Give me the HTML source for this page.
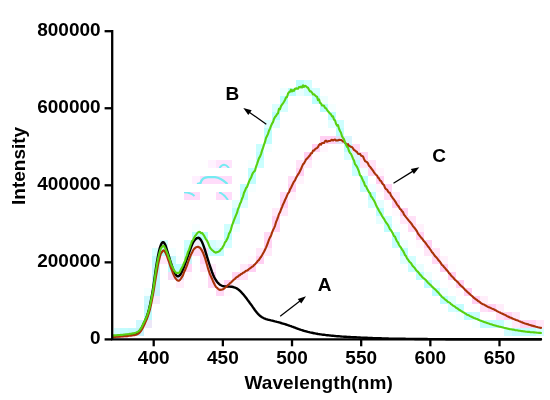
<!DOCTYPE html>
<html>
<head>
<meta charset="utf-8">
<title>Fluorescence spectra</title>
<style>
html,body{margin:0;padding:0;background:#fff;}
body{width:550px;height:400px;overflow:hidden;}
svg{display:block;will-change:transform;filter:blur(0.35px);}
text{font-family:"Liberation Sans",sans-serif;font-weight:bold;font-size:19px;fill:#000;}
</style>
</head>
<body>
<svg width="550" height="400" viewBox="0 0 550 400">
<rect width="550" height="400" fill="#fff"/>
<defs>
<clipPath id="r1"><rect x="184" y="160" width="48" height="8"/></clipPath>
<clipPath id="r2"><rect x="184" y="176" width="48" height="8"/></clipPath>
<clipPath id="r3"><rect x="184" y="192" width="48" height="8"/></clipPath>
</defs>
<g>
<rect x="208" y="160" width="8" height="8" fill="#fff2ff"/><rect x="216" y="160" width="16" height="8" fill="#ffe4fc"/>
<rect x="192" y="176" width="8" height="8" fill="#fff0ff"/>
<rect x="200" y="176" width="32" height="8" fill="#ffdcfa"/>
<rect x="184" y="192" width="16" height="8" fill="#ffdcfa"/>
<rect x="216" y="192" width="16" height="8" fill="#ffdcfa"/>
<g fill="none" stroke="#74ebf1" stroke-width="2.0" stroke-linecap="butt">
<path d="M219.5,168 Q224,161.5 229,168" clip-path="url(#r1)"/>
<path d="M197,184 L200.5,183 Q202,177.5 208,177.2 L215,177.2 Q221,178 227.5,184" clip-path="url(#r2)" stroke-width="2.3"/>
<path d="M184,192.2 Q191,192.5 194.5,196" clip-path="url(#r3)"/>
<path d="M219,192.3 Q223.5,193.5 228,200" clip-path="url(#r3)"/>
</g>
</g>
<rect x="114" y="328" width="6" height="8" fill="rgb(255,206,242)" fill-opacity="0.15"/>
<rect x="114" y="336" width="6" height="2" fill="rgb(255,206,242)" fill-opacity="0.59"/>
<rect x="120" y="328" width="8" height="8" fill="rgb(255,206,242)" fill-opacity="0.19"/>
<rect x="120" y="336" width="8" height="2" fill="rgb(255,206,242)" fill-opacity="0.66"/>
<rect x="128" y="328" width="8" height="8" fill="rgb(255,206,242)" fill-opacity="0.68"/>
<rect x="128" y="336" width="8" height="2" fill="rgb(255,206,242)" fill-opacity="0.18"/>
<rect x="136" y="320" width="8" height="8" fill="rgb(255,206,242)" fill-opacity="0.30"/>
<rect x="136" y="328" width="8" height="8" fill="rgb(255,206,242)" fill-opacity="0.95"/>
<rect x="144" y="296" width="8" height="8" fill="rgb(255,206,242)" fill-opacity="0.44"/>
<rect x="144" y="304" width="8" height="8" fill="rgb(255,206,242)" fill-opacity="0.86"/>
<rect x="144" y="312" width="8" height="8" fill="rgb(255,206,242)" fill-opacity="0.89"/>
<rect x="144" y="320" width="8" height="8" fill="rgb(255,206,242)" fill-opacity="0.62"/>
<rect x="152" y="256" width="8" height="8" fill="rgb(255,206,242)" fill-opacity="0.71"/>
<rect x="152" y="264" width="8" height="8" fill="rgb(255,206,242)" fill-opacity="0.86"/>
<rect x="152" y="272" width="8" height="8" fill="rgb(255,206,242)" fill-opacity="0.87"/>
<rect x="152" y="280" width="8" height="8" fill="rgb(255,206,242)" fill-opacity="0.84"/>
<rect x="152" y="288" width="8" height="8" fill="rgb(255,206,242)" fill-opacity="0.84"/>
<rect x="152" y="296" width="8" height="8" fill="rgb(255,206,242)" fill-opacity="0.43"/>
<rect x="160" y="248" width="8" height="8" fill="rgb(255,206,242)" fill-opacity="0.95"/>
<rect x="160" y="256" width="8" height="8" fill="rgb(255,206,242)" fill-opacity="0.48"/>
<rect x="168" y="256" width="8" height="8" fill="rgb(255,206,242)" fill-opacity="0.56"/>
<rect x="168" y="264" width="8" height="8" fill="rgb(255,206,242)" fill-opacity="0.90"/>
<rect x="168" y="272" width="8" height="8" fill="rgb(255,206,242)" fill-opacity="0.80"/>
<rect x="176" y="272" width="8" height="8" fill="rgb(255,206,242)" fill-opacity="0.95"/>
<rect x="176" y="280" width="8" height="8" fill="rgb(255,206,242)" fill-opacity="0.35"/>
<rect x="184" y="248" width="8" height="8" fill="rgb(255,206,242)" fill-opacity="0.37"/>
<rect x="184" y="256" width="8" height="8" fill="rgb(255,206,242)" fill-opacity="0.91"/>
<rect x="184" y="264" width="8" height="8" fill="rgb(255,206,242)" fill-opacity="0.86"/>
<rect x="184" y="272" width="8" height="8" fill="rgb(255,206,242)" fill-opacity="0.12"/>
<rect x="192" y="240" width="8" height="8" fill="rgb(255,206,242)" fill-opacity="0.51"/>
<rect x="192" y="248" width="8" height="8" fill="rgb(255,206,242)" fill-opacity="0.69"/>
<rect x="200" y="240" width="8" height="8" fill="rgb(255,206,242)" fill-opacity="0.08"/>
<rect x="200" y="248" width="8" height="8" fill="rgb(255,206,242)" fill-opacity="0.91"/>
<rect x="200" y="256" width="8" height="8" fill="rgb(255,206,242)" fill-opacity="0.89"/>
<rect x="200" y="264" width="8" height="8" fill="rgb(255,206,242)" fill-opacity="0.44"/>
<rect x="208" y="264" width="8" height="8" fill="rgb(255,206,242)" fill-opacity="0.42"/>
<rect x="208" y="272" width="8" height="8" fill="rgb(255,206,242)" fill-opacity="0.93"/>
<rect x="208" y="280" width="8" height="8" fill="rgb(255,206,242)" fill-opacity="0.79"/>
<rect x="216" y="280" width="8" height="8" fill="rgb(255,206,242)" fill-opacity="0.20"/>
<rect x="216" y="288" width="8" height="8" fill="rgb(255,206,242)" fill-opacity="0.80"/>
<rect x="224" y="280" width="8" height="8" fill="rgb(255,206,242)" fill-opacity="0.95"/>
<rect x="224" y="288" width="8" height="8" fill="rgb(255,206,242)" fill-opacity="0.13"/>
<rect x="232" y="272" width="8" height="8" fill="rgb(255,206,242)" fill-opacity="0.87"/>
<rect x="232" y="280" width="8" height="8" fill="rgb(255,206,242)" fill-opacity="0.24"/>
<rect x="240" y="264" width="8" height="8" fill="rgb(255,206,242)" fill-opacity="0.44"/>
<rect x="240" y="272" width="8" height="8" fill="rgb(255,206,242)" fill-opacity="0.59"/>
<rect x="248" y="256" width="8" height="8" fill="rgb(255,206,242)" fill-opacity="0.13"/>
<rect x="248" y="264" width="8" height="8" fill="rgb(255,206,242)" fill-opacity="0.95"/>
<rect x="256" y="248" width="8" height="8" fill="rgb(255,206,242)" fill-opacity="0.50"/>
<rect x="256" y="256" width="8" height="8" fill="rgb(255,206,242)" fill-opacity="0.95"/>
<rect x="264" y="232" width="8" height="8" fill="rgb(255,206,242)" fill-opacity="0.78"/>
<rect x="264" y="240" width="8" height="8" fill="rgb(255,206,242)" fill-opacity="0.90"/>
<rect x="264" y="248" width="8" height="8" fill="rgb(255,206,242)" fill-opacity="0.46"/>
<rect x="272" y="208" width="8" height="8" fill="rgb(255,206,242)" fill-opacity="0.43"/>
<rect x="272" y="216" width="8" height="8" fill="rgb(255,206,242)" fill-opacity="0.90"/>
<rect x="272" y="224" width="8" height="8" fill="rgb(255,206,242)" fill-opacity="0.87"/>
<rect x="272" y="232" width="8" height="8" fill="rgb(255,206,242)" fill-opacity="0.14"/>
<rect x="280" y="192" width="8" height="8" fill="rgb(255,206,242)" fill-opacity="0.72"/>
<rect x="280" y="200" width="8" height="8" fill="rgb(255,206,242)" fill-opacity="0.92"/>
<rect x="280" y="208" width="8" height="8" fill="rgb(255,206,242)" fill-opacity="0.49"/>
<rect x="288" y="176" width="8" height="8" fill="rgb(255,206,242)" fill-opacity="0.70"/>
<rect x="288" y="184" width="8" height="8" fill="rgb(255,206,242)" fill-opacity="0.93"/>
<rect x="288" y="192" width="8" height="8" fill="rgb(255,206,242)" fill-opacity="0.22"/>
<rect x="296" y="160" width="8" height="8" fill="rgb(255,206,242)" fill-opacity="0.57"/>
<rect x="296" y="168" width="8" height="8" fill="rgb(255,206,242)" fill-opacity="0.95"/>
<rect x="296" y="176" width="8" height="8" fill="rgb(255,206,242)" fill-opacity="0.26"/>
<rect x="304" y="152" width="8" height="8" fill="rgb(255,206,242)" fill-opacity="0.95"/>
<rect x="304" y="160" width="8" height="8" fill="rgb(255,206,242)" fill-opacity="0.41"/>
<rect x="312" y="144" width="8" height="8" fill="rgb(255,206,242)" fill-opacity="0.95"/>
<rect x="312" y="152" width="8" height="8" fill="rgb(255,206,242)" fill-opacity="0.13"/>
<rect x="320" y="136" width="8" height="8" fill="rgb(255,206,242)" fill-opacity="0.95"/>
<rect x="320" y="144" width="8" height="8" fill="rgb(255,206,242)" fill-opacity="0.19"/>
<rect x="328" y="136" width="8" height="8" fill="rgb(255,206,242)" fill-opacity="0.95"/>
<rect x="336" y="136" width="8" height="8" fill="rgb(255,206,242)" fill-opacity="0.95"/>
<rect x="344" y="136" width="8" height="8" fill="rgb(255,206,242)" fill-opacity="0.39"/>
<rect x="344" y="144" width="8" height="8" fill="rgb(255,206,242)" fill-opacity="0.85"/>
<rect x="352" y="144" width="8" height="8" fill="rgb(255,206,242)" fill-opacity="0.74"/>
<rect x="352" y="152" width="8" height="8" fill="rgb(255,206,242)" fill-opacity="0.45"/>
<rect x="360" y="152" width="8" height="8" fill="rgb(255,206,242)" fill-opacity="0.84"/>
<rect x="360" y="160" width="8" height="8" fill="rgb(255,206,242)" fill-opacity="0.55"/>
<rect x="368" y="160" width="8" height="8" fill="rgb(255,206,242)" fill-opacity="0.58"/>
<rect x="368" y="168" width="8" height="8" fill="rgb(255,206,242)" fill-opacity="0.86"/>
<rect x="376" y="168" width="8" height="8" fill="rgb(255,206,242)" fill-opacity="0.21"/>
<rect x="376" y="176" width="8" height="8" fill="rgb(255,206,242)" fill-opacity="0.95"/>
<rect x="376" y="184" width="8" height="8" fill="rgb(255,206,242)" fill-opacity="0.19"/>
<rect x="384" y="184" width="8" height="8" fill="rgb(255,206,242)" fill-opacity="0.88"/>
<rect x="384" y="192" width="8" height="8" fill="rgb(255,206,242)" fill-opacity="0.65"/>
<rect x="392" y="192" width="8" height="8" fill="rgb(255,206,242)" fill-opacity="0.42"/>
<rect x="392" y="200" width="8" height="8" fill="rgb(255,206,242)" fill-opacity="0.95"/>
<rect x="392" y="208" width="8" height="8" fill="rgb(255,206,242)" fill-opacity="0.12"/>
<rect x="400" y="208" width="8" height="8" fill="rgb(255,206,242)" fill-opacity="0.95"/>
<rect x="400" y="216" width="8" height="8" fill="rgb(255,206,242)" fill-opacity="0.47"/>
<rect x="408" y="216" width="8" height="8" fill="rgb(255,206,242)" fill-opacity="0.62"/>
<rect x="408" y="224" width="8" height="8" fill="rgb(255,206,242)" fill-opacity="0.76"/>
<rect x="416" y="224" width="8" height="8" fill="rgb(255,206,242)" fill-opacity="0.28"/>
<rect x="416" y="232" width="8" height="8" fill="rgb(255,206,242)" fill-opacity="0.95"/>
<rect x="416" y="240" width="8" height="8" fill="rgb(255,206,242)" fill-opacity="0.15"/>
<rect x="424" y="240" width="8" height="8" fill="rgb(255,206,242)" fill-opacity="0.92"/>
<rect x="424" y="248" width="8" height="8" fill="rgb(255,206,242)" fill-opacity="0.50"/>
<rect x="432" y="248" width="8" height="8" fill="rgb(255,206,242)" fill-opacity="0.55"/>
<rect x="432" y="256" width="8" height="8" fill="rgb(255,206,242)" fill-opacity="0.80"/>
<rect x="440" y="256" width="8" height="8" fill="rgb(255,206,242)" fill-opacity="0.28"/>
<rect x="440" y="264" width="8" height="8" fill="rgb(255,206,242)" fill-opacity="0.95"/>
<rect x="448" y="264" width="8" height="8" fill="rgb(255,206,242)" fill-opacity="0.11"/>
<rect x="448" y="272" width="8" height="8" fill="rgb(255,206,242)" fill-opacity="0.95"/>
<rect x="448" y="280" width="8" height="8" fill="rgb(255,206,242)" fill-opacity="0.10"/>
<rect x="456" y="280" width="8" height="8" fill="rgb(255,206,242)" fill-opacity="0.95"/>
<rect x="456" y="288" width="8" height="8" fill="rgb(255,206,242)" fill-opacity="0.10"/>
<rect x="464" y="288" width="8" height="8" fill="rgb(255,206,242)" fill-opacity="0.95"/>
<rect x="472" y="296" width="8" height="8" fill="rgb(255,206,242)" fill-opacity="0.95"/>
<rect x="480" y="296" width="8" height="8" fill="rgb(255,206,242)" fill-opacity="0.35"/>
<rect x="480" y="304" width="8" height="8" fill="rgb(255,206,242)" fill-opacity="0.63"/>
<rect x="488" y="304" width="8" height="8" fill="rgb(255,206,242)" fill-opacity="0.93"/>
<rect x="496" y="304" width="8" height="8" fill="rgb(255,206,242)" fill-opacity="0.36"/>
<rect x="496" y="312" width="8" height="8" fill="rgb(255,206,242)" fill-opacity="0.59"/>
<rect x="504" y="312" width="8" height="8" fill="rgb(255,206,242)" fill-opacity="0.93"/>
<rect x="512" y="312" width="8" height="8" fill="rgb(255,206,242)" fill-opacity="0.49"/>
<rect x="512" y="320" width="8" height="8" fill="rgb(255,206,242)" fill-opacity="0.42"/>
<rect x="520" y="320" width="8" height="8" fill="rgb(255,206,242)" fill-opacity="0.90"/>
<rect x="528" y="320" width="8" height="8" fill="rgb(255,206,242)" fill-opacity="0.88"/>
<rect x="536" y="320" width="8" height="8" fill="rgb(255,206,242)" fill-opacity="0.46"/>
<rect x="536" y="328" width="8" height="8" fill="rgb(255,206,242)" fill-opacity="0.08"/>
<rect x="114" y="328" width="6" height="8" fill="rgb(184,253,253)" fill-opacity="0.62"/>
<rect x="114" y="336" width="6" height="2" fill="rgb(184,253,253)" fill-opacity="0.13"/>
<rect x="120" y="328" width="8" height="8" fill="rgb(184,253,253)" fill-opacity="0.85"/>
<rect x="128" y="328" width="8" height="8" fill="rgb(184,253,253)" fill-opacity="0.86"/>
<rect x="136" y="320" width="8" height="8" fill="rgb(184,253,253)" fill-opacity="0.66"/>
<rect x="136" y="328" width="8" height="8" fill="rgb(184,253,253)" fill-opacity="0.77"/>
<rect x="144" y="288" width="8" height="8" fill="rgb(184,253,253)" fill-opacity="0.15"/>
<rect x="144" y="296" width="8" height="8" fill="rgb(184,253,253)" fill-opacity="0.72"/>
<rect x="144" y="304" width="8" height="8" fill="rgb(184,253,253)" fill-opacity="0.88"/>
<rect x="144" y="312" width="8" height="8" fill="rgb(184,253,253)" fill-opacity="0.92"/>
<rect x="144" y="320" width="8" height="8" fill="rgb(184,253,253)" fill-opacity="0.27"/>
<rect x="152" y="248" width="8" height="8" fill="rgb(184,253,253)" fill-opacity="0.52"/>
<rect x="152" y="256" width="8" height="8" fill="rgb(184,253,253)" fill-opacity="0.87"/>
<rect x="152" y="264" width="8" height="8" fill="rgb(184,253,253)" fill-opacity="0.86"/>
<rect x="152" y="272" width="8" height="8" fill="rgb(184,253,253)" fill-opacity="0.85"/>
<rect x="152" y="280" width="8" height="8" fill="rgb(184,253,253)" fill-opacity="0.85"/>
<rect x="152" y="288" width="8" height="8" fill="rgb(184,253,253)" fill-opacity="0.71"/>
<rect x="152" y="296" width="8" height="8" fill="rgb(184,253,253)" fill-opacity="0.12"/>
<rect x="160" y="240" width="8" height="8" fill="rgb(184,253,253)" fill-opacity="0.62"/>
<rect x="160" y="248" width="8" height="8" fill="rgb(184,253,253)" fill-opacity="0.95"/>
<rect x="168" y="248" width="8" height="8" fill="rgb(184,253,253)" fill-opacity="0.15"/>
<rect x="168" y="256" width="8" height="8" fill="rgb(184,253,253)" fill-opacity="0.85"/>
<rect x="168" y="264" width="8" height="8" fill="rgb(184,253,253)" fill-opacity="0.94"/>
<rect x="168" y="272" width="8" height="8" fill="rgb(184,253,253)" fill-opacity="0.12"/>
<rect x="176" y="256" width="8" height="8" fill="rgb(184,253,253)" fill-opacity="0.13"/>
<rect x="176" y="264" width="8" height="8" fill="rgb(184,253,253)" fill-opacity="0.95"/>
<rect x="176" y="272" width="8" height="8" fill="rgb(184,253,253)" fill-opacity="0.39"/>
<rect x="184" y="240" width="8" height="8" fill="rgb(184,253,253)" fill-opacity="0.72"/>
<rect x="184" y="248" width="8" height="8" fill="rgb(184,253,253)" fill-opacity="0.90"/>
<rect x="184" y="256" width="8" height="8" fill="rgb(184,253,253)" fill-opacity="0.77"/>
<rect x="192" y="224" width="8" height="8" fill="rgb(184,253,253)" fill-opacity="0.11"/>
<rect x="192" y="232" width="8" height="8" fill="rgb(184,253,253)" fill-opacity="0.95"/>
<rect x="192" y="240" width="8" height="8" fill="rgb(184,253,253)" fill-opacity="0.21"/>
<rect x="200" y="232" width="8" height="8" fill="rgb(184,253,253)" fill-opacity="0.95"/>
<rect x="200" y="240" width="8" height="8" fill="rgb(184,253,253)" fill-opacity="0.33"/>
<rect x="208" y="240" width="8" height="8" fill="rgb(184,253,253)" fill-opacity="0.60"/>
<rect x="208" y="248" width="8" height="8" fill="rgb(184,253,253)" fill-opacity="0.78"/>
<rect x="216" y="240" width="8" height="8" fill="rgb(184,253,253)" fill-opacity="0.39"/>
<rect x="216" y="248" width="8" height="8" fill="rgb(184,253,253)" fill-opacity="0.85"/>
<rect x="224" y="224" width="8" height="8" fill="rgb(184,253,253)" fill-opacity="0.67"/>
<rect x="224" y="232" width="8" height="8" fill="rgb(184,253,253)" fill-opacity="0.92"/>
<rect x="224" y="240" width="8" height="8" fill="rgb(184,253,253)" fill-opacity="0.59"/>
<rect x="232" y="200" width="8" height="8" fill="rgb(184,253,253)" fill-opacity="0.44"/>
<rect x="232" y="208" width="8" height="8" fill="rgb(184,253,253)" fill-opacity="0.89"/>
<rect x="232" y="216" width="8" height="8" fill="rgb(184,253,253)" fill-opacity="0.88"/>
<rect x="232" y="224" width="8" height="8" fill="rgb(184,253,253)" fill-opacity="0.24"/>
<rect x="240" y="184" width="8" height="8" fill="rgb(184,253,253)" fill-opacity="0.82"/>
<rect x="240" y="192" width="8" height="8" fill="rgb(184,253,253)" fill-opacity="0.91"/>
<rect x="240" y="200" width="8" height="8" fill="rgb(184,253,253)" fill-opacity="0.46"/>
<rect x="248" y="160" width="8" height="8" fill="rgb(184,253,253)" fill-opacity="0.15"/>
<rect x="248" y="168" width="8" height="8" fill="rgb(184,253,253)" fill-opacity="0.90"/>
<rect x="248" y="176" width="8" height="8" fill="rgb(184,253,253)" fill-opacity="0.87"/>
<rect x="248" y="184" width="8" height="8" fill="rgb(184,253,253)" fill-opacity="0.12"/>
<rect x="256" y="144" width="8" height="8" fill="rgb(184,253,253)" fill-opacity="0.74"/>
<rect x="256" y="152" width="8" height="8" fill="rgb(184,253,253)" fill-opacity="0.92"/>
<rect x="256" y="160" width="8" height="8" fill="rgb(184,253,253)" fill-opacity="0.73"/>
<rect x="264" y="120" width="8" height="8" fill="rgb(184,253,253)" fill-opacity="0.46"/>
<rect x="264" y="128" width="8" height="8" fill="rgb(184,253,253)" fill-opacity="0.91"/>
<rect x="264" y="136" width="8" height="8" fill="rgb(184,253,253)" fill-opacity="0.86"/>
<rect x="264" y="144" width="8" height="8" fill="rgb(184,253,253)" fill-opacity="0.15"/>
<rect x="272" y="104" width="8" height="8" fill="rgb(184,253,253)" fill-opacity="0.52"/>
<rect x="272" y="112" width="8" height="8" fill="rgb(184,253,253)" fill-opacity="0.95"/>
<rect x="272" y="120" width="8" height="8" fill="rgb(184,253,253)" fill-opacity="0.46"/>
<rect x="280" y="88" width="8" height="8" fill="rgb(184,253,253)" fill-opacity="0.23"/>
<rect x="280" y="96" width="8" height="8" fill="rgb(184,253,253)" fill-opacity="0.95"/>
<rect x="280" y="104" width="8" height="8" fill="rgb(184,253,253)" fill-opacity="0.59"/>
<rect x="288" y="88" width="8" height="8" fill="rgb(184,253,253)" fill-opacity="0.95"/>
<rect x="296" y="80" width="8" height="8" fill="rgb(184,253,253)" fill-opacity="0.95"/>
<rect x="296" y="88" width="8" height="8" fill="rgb(184,253,253)" fill-opacity="0.33"/>
<rect x="304" y="80" width="8" height="8" fill="rgb(184,253,253)" fill-opacity="0.59"/>
<rect x="304" y="88" width="8" height="8" fill="rgb(184,253,253)" fill-opacity="0.69"/>
<rect x="312" y="88" width="8" height="8" fill="rgb(184,253,253)" fill-opacity="0.60"/>
<rect x="312" y="96" width="8" height="8" fill="rgb(184,253,253)" fill-opacity="0.95"/>
<rect x="320" y="96" width="8" height="8" fill="rgb(184,253,253)" fill-opacity="0.25"/>
<rect x="320" y="104" width="8" height="8" fill="rgb(184,253,253)" fill-opacity="0.95"/>
<rect x="328" y="104" width="8" height="8" fill="rgb(184,253,253)" fill-opacity="0.14"/>
<rect x="328" y="112" width="8" height="8" fill="rgb(184,253,253)" fill-opacity="0.95"/>
<rect x="328" y="120" width="8" height="8" fill="rgb(184,253,253)" fill-opacity="0.40"/>
<rect x="336" y="120" width="8" height="8" fill="rgb(184,253,253)" fill-opacity="0.70"/>
<rect x="336" y="128" width="8" height="8" fill="rgb(184,253,253)" fill-opacity="0.93"/>
<rect x="336" y="136" width="8" height="8" fill="rgb(184,253,253)" fill-opacity="0.41"/>
<rect x="344" y="136" width="8" height="8" fill="rgb(184,253,253)" fill-opacity="0.52"/>
<rect x="344" y="144" width="8" height="8" fill="rgb(184,253,253)" fill-opacity="0.94"/>
<rect x="344" y="152" width="8" height="8" fill="rgb(184,253,253)" fill-opacity="0.52"/>
<rect x="352" y="152" width="8" height="8" fill="rgb(184,253,253)" fill-opacity="0.45"/>
<rect x="352" y="160" width="8" height="8" fill="rgb(184,253,253)" fill-opacity="0.95"/>
<rect x="352" y="168" width="8" height="8" fill="rgb(184,253,253)" fill-opacity="0.74"/>
<rect x="360" y="168" width="8" height="8" fill="rgb(184,253,253)" fill-opacity="0.18"/>
<rect x="360" y="176" width="8" height="8" fill="rgb(184,253,253)" fill-opacity="0.94"/>
<rect x="360" y="184" width="8" height="8" fill="rgb(184,253,253)" fill-opacity="0.77"/>
<rect x="368" y="184" width="8" height="8" fill="rgb(184,253,253)" fill-opacity="0.22"/>
<rect x="368" y="192" width="8" height="8" fill="rgb(184,253,253)" fill-opacity="0.95"/>
<rect x="368" y="200" width="8" height="8" fill="rgb(184,253,253)" fill-opacity="0.56"/>
<rect x="376" y="200" width="8" height="8" fill="rgb(184,253,253)" fill-opacity="0.38"/>
<rect x="376" y="208" width="8" height="8" fill="rgb(184,253,253)" fill-opacity="0.95"/>
<rect x="376" y="216" width="8" height="8" fill="rgb(184,253,253)" fill-opacity="0.35"/>
<rect x="384" y="216" width="8" height="8" fill="rgb(184,253,253)" fill-opacity="0.65"/>
<rect x="384" y="224" width="8" height="8" fill="rgb(184,253,253)" fill-opacity="0.91"/>
<rect x="392" y="224" width="8" height="8" fill="rgb(184,253,253)" fill-opacity="0.08"/>
<rect x="392" y="232" width="8" height="8" fill="rgb(184,253,253)" fill-opacity="0.91"/>
<rect x="392" y="240" width="8" height="8" fill="rgb(184,253,253)" fill-opacity="0.78"/>
<rect x="400" y="240" width="8" height="8" fill="rgb(184,253,253)" fill-opacity="0.23"/>
<rect x="400" y="248" width="8" height="8" fill="rgb(184,253,253)" fill-opacity="0.95"/>
<rect x="400" y="256" width="8" height="8" fill="rgb(184,253,253)" fill-opacity="0.43"/>
<rect x="408" y="256" width="8" height="8" fill="rgb(184,253,253)" fill-opacity="0.62"/>
<rect x="408" y="264" width="8" height="8" fill="rgb(184,253,253)" fill-opacity="0.77"/>
<rect x="416" y="264" width="8" height="8" fill="rgb(184,253,253)" fill-opacity="0.32"/>
<rect x="416" y="272" width="8" height="8" fill="rgb(184,253,253)" fill-opacity="0.93"/>
<rect x="424" y="272" width="8" height="8" fill="rgb(184,253,253)" fill-opacity="0.25"/>
<rect x="424" y="280" width="8" height="8" fill="rgb(184,253,253)" fill-opacity="0.95"/>
<rect x="432" y="280" width="8" height="8" fill="rgb(184,253,253)" fill-opacity="0.24"/>
<rect x="432" y="288" width="8" height="8" fill="rgb(184,253,253)" fill-opacity="0.95"/>
<rect x="440" y="288" width="8" height="8" fill="rgb(184,253,253)" fill-opacity="0.22"/>
<rect x="440" y="296" width="8" height="8" fill="rgb(184,253,253)" fill-opacity="0.93"/>
<rect x="448" y="296" width="8" height="8" fill="rgb(184,253,253)" fill-opacity="0.42"/>
<rect x="448" y="304" width="8" height="8" fill="rgb(184,253,253)" fill-opacity="0.64"/>
<rect x="456" y="304" width="8" height="8" fill="rgb(184,253,253)" fill-opacity="0.85"/>
<rect x="456" y="312" width="8" height="8" fill="rgb(184,253,253)" fill-opacity="0.16"/>
<rect x="464" y="312" width="8" height="8" fill="rgb(184,253,253)" fill-opacity="0.95"/>
<rect x="472" y="312" width="8" height="8" fill="rgb(184,253,253)" fill-opacity="0.79"/>
<rect x="472" y="320" width="8" height="8" fill="rgb(184,253,253)" fill-opacity="0.14"/>
<rect x="480" y="320" width="8" height="8" fill="rgb(184,253,253)" fill-opacity="0.86"/>
<rect x="488" y="320" width="8" height="8" fill="rgb(184,253,253)" fill-opacity="0.89"/>
<rect x="496" y="320" width="8" height="8" fill="rgb(184,253,253)" fill-opacity="0.81"/>
<rect x="504" y="320" width="8" height="8" fill="rgb(184,253,253)" fill-opacity="0.18"/>
<rect x="504" y="328" width="8" height="8" fill="rgb(184,253,253)" fill-opacity="0.68"/>
<rect x="512" y="328" width="8" height="8" fill="rgb(184,253,253)" fill-opacity="0.86"/>
<rect x="520" y="328" width="8" height="8" fill="rgb(184,253,253)" fill-opacity="0.85"/>
<rect x="528" y="328" width="8" height="8" fill="rgb(184,253,253)" fill-opacity="0.85"/>
<rect x="536" y="328" width="8" height="8" fill="rgb(184,253,253)" fill-opacity="0.53"/>
<g fill="none" stroke-linejoin="round" stroke-linecap="round">
<path d="M113.0,336.3 L114.0,336.2 L115.0,336.2 L116.0,336.1 L117.0,336.0 L118.0,336.0 L119.0,335.9 L120.0,335.8 L121.0,335.7 L122.0,335.6 L123.0,335.5 L124.0,335.4 L125.0,335.3 L126.0,335.2 L127.0,335.1 L128.0,335.0 L129.0,334.9 L130.0,334.7 L131.0,334.6 L132.0,334.4 L133.0,334.2 L134.0,334.0 L135.0,333.7 L136.0,333.4 L137.0,333.0 L138.0,332.4 L139.0,331.6 L140.0,330.5 L141.0,329.1 L142.0,327.3 L143.0,325.3 L144.0,323.1 L145.0,320.9 L146.0,318.5 L147.0,315.9 L148.0,312.9 L149.0,309.2 L150.0,304.9 L151.0,300.0 L152.0,294.8 L153.0,288.9 L154.0,282.2 L155.0,274.9 L156.0,267.9 L157.0,261.6 L158.0,256.1 L159.0,251.3 L160.0,247.4 L161.0,244.6 L162.0,242.7 L163.0,242.1 L164.0,242.6 L165.0,244.3 L166.0,246.8 L167.0,250.0 L168.0,253.3 L169.0,256.7 L170.0,260.0 L171.0,263.1 L172.0,266.1 L173.0,268.9 L174.0,271.4 L175.0,273.5 L176.0,275.0 L177.0,276.0 L178.0,276.3 L179.0,275.9 L180.0,275.0 L181.0,273.5 L182.0,271.6 L183.0,269.2 L184.0,266.7 L185.0,264.1 L186.0,261.4 L187.0,258.6 L188.0,255.7 L189.0,252.8 L190.0,250.0 L191.0,247.3 L192.0,244.8 L193.0,242.7 L194.0,241.0 L195.0,239.7 L196.0,238.8 L197.0,238.1 L198.0,237.8 L199.0,238.0 L200.0,238.8 L201.0,240.2 L202.0,242.0 L203.0,244.4 L204.0,247.1 L205.0,250.1 L206.0,253.3 L207.0,256.6 L208.0,259.8 L209.0,263.0 L210.0,266.1 L211.0,269.0 L212.0,271.9 L213.0,274.5 L214.0,276.8 L215.0,278.7 L216.0,280.3 L217.0,281.7 L218.0,282.9 L219.0,283.9 L220.0,284.7 L221.0,285.3 L222.0,285.8 L223.0,286.1 L224.0,286.3 L225.0,286.4 L226.0,286.4 L227.0,286.5 L228.0,286.5 L229.0,286.6 L230.0,286.6 L231.0,286.7 L232.0,286.8 L233.0,287.0 L234.0,287.3 L235.0,287.6 L236.0,288.0 L237.0,288.6 L238.0,289.3 L239.0,290.0 L240.0,290.9 L241.0,291.9 L242.0,293.0 L243.0,294.1 L244.0,295.3 L245.0,296.5 L246.0,297.8 L247.0,299.1 L248.0,300.5 L249.0,301.8 L250.0,303.2 L251.0,304.5 L252.0,305.9 L253.0,307.4 L254.0,308.8 L255.0,310.2 L256.0,311.5 L257.0,312.8 L258.0,313.9 L259.0,314.9 L260.0,315.8 L261.0,316.6 L262.0,317.3 L263.0,317.8 L264.0,318.3 L265.0,318.7 L266.0,319.1 L267.0,319.4 L268.0,319.7 L269.0,319.9 L270.0,320.1 L271.0,320.4 L272.0,320.6 L273.0,320.8 L274.0,321.1 L275.0,321.4 L276.0,321.6 L277.0,321.9 L278.0,322.1 L279.0,322.4 L280.0,322.7 L281.0,323.0 L282.0,323.3 L283.0,323.6 L284.0,323.9 L285.0,324.2 L286.0,324.5 L287.0,324.8 L288.0,325.2 L289.0,325.5 L290.0,325.9 L291.0,326.2 L292.0,326.6 L293.0,326.9 L294.0,327.3 L295.0,327.7 L296.0,328.1 L297.0,328.5 L298.0,328.8 L299.0,329.2 L300.0,329.5 L301.0,329.9 L302.0,330.2 L303.0,330.5 L304.0,330.8 L305.0,331.1 L306.0,331.3 L307.0,331.6 L308.0,331.9 L309.0,332.1 L310.0,332.4 L311.0,332.6 L312.0,332.8 L313.0,333.0 L314.0,333.2 L315.0,333.4 L316.0,333.6 L317.0,333.8 L318.0,334.0 L319.0,334.1 L320.0,334.3 L321.0,334.4 L322.0,334.6 L323.0,334.7 L324.0,334.8 L325.0,334.9 L326.0,335.1 L327.0,335.2 L328.0,335.3 L329.0,335.4 L330.0,335.5 L331.0,335.6 L332.0,335.7 L333.0,335.8 L334.0,335.9 L335.0,336.0 L336.0,336.1 L337.0,336.2 L338.0,336.3 L339.0,336.3 L340.0,336.4 L341.0,336.5 L342.0,336.6 L343.0,336.6 L344.0,336.7 L345.0,336.8 L346.0,336.8 L347.0,336.9 L348.0,336.9 L349.0,337.0 L350.0,337.0 L351.0,337.1 L352.0,337.1 L353.0,337.2 L354.0,337.2 L355.0,337.3 L356.0,337.3 L357.0,337.4 L358.0,337.4 L359.0,337.5 L360.0,337.5 L361.0,337.6 L362.0,337.6 L363.0,337.7 L364.0,337.7 L365.0,337.8 L366.0,337.8 L367.0,337.8 L368.0,337.9 L369.0,337.9 L370.0,338.0 L371.0,338.0 L372.0,338.0 L373.0,338.1 L374.0,338.1 L375.0,338.1 L376.0,338.2 L377.0,338.2 L378.0,338.2 L379.0,338.3 L380.0,338.3 L381.0,338.3 L382.0,338.4 L383.0,338.4 L384.0,338.4 L385.0,338.5 L386.0,338.5 L387.0,338.5 L388.0,338.5 L389.0,338.6 L390.0,338.6 L391.0,338.6 L392.0,338.6 L393.0,338.7 L394.0,338.7 L395.0,338.7 L396.0,338.7 L397.0,338.7 L398.0,338.7 L399.0,338.8 L400.0,338.8 L401.0,338.8 L402.0,338.8 L403.0,338.8 L404.0,338.8 L405.0,338.8 L406.0,338.9 L407.0,338.9 L408.0,338.9 L409.0,338.9 L410.0,338.9 L411.0,338.9 L412.0,338.9 L413.0,338.9 L414.0,338.9 L415.0,339.0 L416.0,339.0 L417.0,339.0 L418.0,339.0 L419.0,339.0 L420.0,339.0 L421.0,339.0 L422.0,339.0 L423.0,339.0 L424.0,339.0 L425.0,339.0 L426.0,339.0 L427.0,339.0 L428.0,339.1 L429.0,339.1 L430.0,339.1 L431.0,339.1 L432.0,339.1 L433.0,339.1 L434.0,339.1 L435.0,339.1 L436.0,339.1 L437.0,339.1 L438.0,339.1 L439.0,339.1 L440.0,339.1 L441.0,339.1 L442.0,339.1 L443.0,339.1 L444.0,339.1 L445.0,339.1 L446.0,339.2 L447.0,339.2 L448.0,339.2 L449.0,339.2 L450.0,339.2 L451.0,339.2 L452.0,339.2 L453.0,339.2 L454.0,339.2 L455.0,339.2 L456.0,339.2 L457.0,339.2 L458.0,339.2 L459.0,339.2 L460.0,339.2 L461.0,339.2 L462.0,339.2 L463.0,339.2 L464.0,339.2 L465.0,339.2 L466.0,339.2 L467.0,339.2 L468.0,339.2 L469.0,339.2 L470.0,339.2 L471.0,339.2 L472.0,339.2 L473.0,339.2 L474.0,339.2 L475.0,339.2 L476.0,339.2 L477.0,339.2 L478.0,339.2 L479.0,339.2 L480.0,339.2 L481.0,339.2 L482.0,339.2 L483.0,339.2 L484.0,339.2 L485.0,339.2 L486.0,339.2 L487.0,339.3 L488.0,339.3 L489.0,339.3 L490.0,339.3 L491.0,339.3 L492.0,339.3 L493.0,339.3 L494.0,339.3 L495.0,339.3 L496.0,339.3 L497.0,339.3 L498.0,339.3 L499.0,339.3 L500.0,339.3 L501.0,339.3 L502.0,339.3 L503.0,339.3 L504.0,339.3 L505.0,339.3 L506.0,339.3 L507.0,339.3 L508.0,339.3 L509.0,339.3 L510.0,339.3 L511.0,339.3 L512.0,339.3 L513.0,339.3 L514.0,339.3 L515.0,339.3 L516.0,339.3 L517.0,339.3 L518.0,339.3 L519.0,339.3 L520.0,339.3 L521.0,339.3 L522.0,339.3 L523.0,339.3 L524.0,339.3 L525.0,339.3 L526.0,339.3 L527.0,339.3 L528.0,339.3 L529.0,339.3 L530.0,339.3 L531.0,339.3 L532.0,339.3 L533.0,339.3 L534.0,339.3 L535.0,339.3 L536.0,339.3 L537.0,339.3 L538.0,339.3 L539.0,339.3 L540.0,339.3 L541.0,339.3" stroke="#000" stroke-width="2.4"/>
<path d="M113.0,337.0 L114.0,337.0 L115.0,336.9 L116.0,336.8 L117.0,336.8 L118.0,336.7 L119.0,336.7 L120.0,336.6 L121.0,336.5 L122.0,336.4 L123.0,336.4 L124.0,336.3 L125.0,336.3 L126.0,336.1 L127.0,336.1 L128.0,336.0 L129.0,335.8 L130.0,335.8 L131.0,335.6 L132.0,335.5 L133.0,335.3 L134.0,335.2 L135.0,334.9 L136.0,334.7 L137.0,334.4 L138.0,333.9 L139.0,333.1 L140.0,332.2 L141.0,330.9 L142.0,329.3 L143.0,327.4 L144.0,325.3 L145.0,323.2 L146.0,320.9 L147.0,318.5 L148.0,315.8 L149.0,312.7 L150.0,309.1 L151.0,304.7 L152.0,299.9 L153.0,294.6 L154.0,288.8 L155.0,282.4 L156.0,276.4 L157.0,270.8 L158.0,264.8 L159.0,260.5 L160.0,256.4 L161.0,253.3 L162.0,252.0 L163.0,250.7 L164.0,250.3 L165.0,251.8 L166.0,253.9 L167.0,256.2 L168.0,259.2 L169.0,262.0 L170.0,265.1 L171.0,268.2 L172.0,270.7 L173.0,273.4 L174.0,275.6 L175.0,277.6 L176.0,278.9 L177.0,280.1 L178.0,280.7 L179.0,280.7 L180.0,280.0 L181.0,278.5 L182.0,276.9 L183.0,275.2 L184.0,272.4 L185.0,270.3 L186.0,267.8 L187.0,265.4 L188.0,262.5 L189.0,259.6 L190.0,257.0 L191.0,254.6 L192.0,252.8 L193.0,250.5 L194.0,249.0 L195.0,248.1 L196.0,247.3 L197.0,247.0 L198.0,246.7 L199.0,247.2 L200.0,247.7 L201.0,249.2 L202.0,250.7 L203.0,252.7 L204.0,255.3 L205.0,257.9 L206.0,261.4 L207.0,264.7 L208.0,268.4 L209.0,271.3 L210.0,274.4 L211.0,276.5 L212.0,278.7 L213.0,281.2 L214.0,283.2 L215.0,285.2 L216.0,287.0 L217.0,287.8 L218.0,288.8 L219.0,289.6 L220.0,289.9 L221.0,289.8 L222.0,289.6 L223.0,289.3 L224.0,288.7 L225.0,287.7 L226.0,287.0 L227.0,286.1 L228.0,285.0 L229.0,284.3 L230.0,283.2 L231.0,282.5 L232.0,281.5 L233.0,280.5 L234.0,279.5 L235.0,278.8 L236.0,277.7 L237.0,277.0 L238.0,276.5 L239.0,275.4 L240.0,275.2 L241.0,274.0 L242.0,273.7 L243.0,272.7 L244.0,272.4 L245.0,271.6 L246.0,270.7 L247.0,270.6 L248.0,270.0 L249.0,269.0 L250.0,268.3 L251.0,267.7 L252.0,266.8 L253.0,266.4 L254.0,265.1 L255.0,264.3 L256.0,263.1 L257.0,262.0 L258.0,260.7 L259.0,259.9 L260.0,258.2 L261.0,257.0 L262.0,255.3 L263.0,253.5 L264.0,251.8 L265.0,249.7 L266.0,247.6 L267.0,245.1 L268.0,242.5 L269.0,239.7 L270.0,237.4 L271.0,235.7 L272.0,232.6 L273.0,230.1 L274.0,228.1 L275.0,225.8 L276.0,222.2 L277.0,219.9 L278.0,217.1 L279.0,214.0 L280.0,212.3 L281.0,209.5 L282.0,207.1 L283.0,204.4 L284.0,202.6 L285.0,200.0 L286.0,198.1 L287.0,195.6 L288.0,193.4 L289.0,192.3 L290.0,189.4 L291.0,187.7 L292.0,185.6 L293.0,183.5 L294.0,181.6 L295.0,180.3 L296.0,178.0 L297.0,176.2 L298.0,174.4 L299.0,173.1 L300.0,171.0 L301.0,169.0 L302.0,166.6 L303.0,164.3 L304.0,163.4 L305.0,161.6 L306.0,159.5 L307.0,158.6 L308.0,157.5 L309.0,156.3 L310.0,155.2 L311.0,153.3 L312.0,153.2 L313.0,150.6 L314.0,150.6 L315.0,149.3 L316.0,148.5 L317.0,148.1 L318.0,147.1 L319.0,144.9 L320.0,143.9 L321.0,144.6 L322.0,143.0 L323.0,143.0 L324.0,143.0 L325.0,141.2 L326.0,140.6 L327.0,141.7 L328.0,141.3 L329.0,141.0 L330.0,141.0 L331.0,140.3 L332.0,139.8 L333.0,140.5 L334.0,139.9 L335.0,139.5 L336.0,140.6 L337.0,140.2 L338.0,140.5 L339.0,139.7 L340.0,140.0 L341.0,140.0 L342.0,140.4 L343.0,141.4 L344.0,141.5 L345.0,142.9 L346.0,143.6 L347.0,145.2 L348.0,144.1 L349.0,146.0 L350.0,146.2 L351.0,146.9 L352.0,147.0 L353.0,148.4 L354.0,150.0 L355.0,150.4 L356.0,151.4 L357.0,152.0 L358.0,153.7 L359.0,154.0 L360.0,153.8 L361.0,155.6 L362.0,156.0 L363.0,156.4 L364.0,158.9 L365.0,161.0 L366.0,161.6 L367.0,162.2 L368.0,163.5 L369.0,165.8 L370.0,166.7 L371.0,168.0 L372.0,169.3 L373.0,170.6 L374.0,172.3 L375.0,173.6 L376.0,174.7 L377.0,175.5 L378.0,177.6 L379.0,178.4 L380.0,180.6 L381.0,180.9 L382.0,182.8 L383.0,184.3 L384.0,185.1 L385.0,187.8 L386.0,189.1 L387.0,189.6 L388.0,191.5 L389.0,192.7 L390.0,192.9 L391.0,195.6 L392.0,196.9 L393.0,198.4 L394.0,199.4 L395.0,201.2 L396.0,202.7 L397.0,204.6 L398.0,205.7 L399.0,207.0 L400.0,209.0 L401.0,209.7 L402.0,211.2 L403.0,212.1 L404.0,214.7 L405.0,215.9 L406.0,217.2 L407.0,218.4 L408.0,219.6 L409.0,220.9 L410.0,222.0 L411.0,223.2 L412.0,224.5 L413.0,226.3 L414.0,227.3 L415.0,228.5 L416.0,229.8 L417.0,231.3 L418.0,233.6 L419.0,234.9 L420.0,236.2 L421.0,237.4 L422.0,238.4 L423.0,239.8 L424.0,241.3 L425.0,242.2 L426.0,243.6 L427.0,245.0 L428.0,246.5 L429.0,247.5 L430.0,249.2 L431.0,250.4 L432.0,252.2 L433.0,253.1 L434.0,254.7 L435.0,256.1 L436.0,257.0 L437.0,258.1 L438.0,259.5 L439.0,260.8 L440.0,261.8 L441.0,263.4 L442.0,265.0 L443.0,265.7 L444.0,267.0 L445.0,268.0 L446.0,269.4 L447.0,270.3 L448.0,271.5 L449.0,273.1 L450.0,273.8 L451.0,275.3 L452.0,276.5 L453.0,277.3 L454.0,278.5 L455.0,279.8 L456.0,280.5 L457.0,281.5 L458.0,282.4 L459.0,283.6 L460.0,284.9 L461.0,285.8 L462.0,286.6 L463.0,287.6 L464.0,288.6 L465.0,289.7 L466.0,290.6 L467.0,291.6 L468.0,292.5 L469.0,293.4 L470.0,294.3 L471.0,295.2 L472.0,296.0 L473.0,296.9 L474.0,297.9 L475.0,298.6 L476.0,299.4 L477.0,300.0 L478.0,301.0 L479.0,301.5 L480.0,302.2 L481.0,303.1 L482.0,303.7 L483.0,304.2 L484.0,304.5 L485.0,305.2 L486.0,305.7 L487.0,306.3 L488.0,306.9 L489.0,307.2 L490.0,307.6 L491.0,308.1 L492.0,308.6 L493.0,309.0 L494.0,309.4 L495.0,310.0 L496.0,310.4 L497.0,311.1 L498.0,311.6 L499.0,312.1 L500.0,312.5 L501.0,313.1 L502.0,313.5 L503.0,314.0 L504.0,314.5 L505.0,314.9 L506.0,315.4 L507.0,316.1 L508.0,316.5 L509.0,317.0 L510.0,317.5 L511.0,317.7 L512.0,318.2 L513.0,318.7 L514.0,319.1 L515.0,319.5 L516.0,320.0 L517.0,320.3 L518.0,320.6 L519.0,321.1 L520.0,321.5 L521.0,321.9 L522.0,322.2 L523.0,322.7 L524.0,323.1 L525.0,323.5 L526.0,323.7 L527.0,324.1 L528.0,324.3 L529.0,324.8 L530.0,325.0 L531.0,325.4 L532.0,325.6 L533.0,325.9 L534.0,326.1 L535.0,326.4 L536.0,326.8 L537.0,327.0 L538.0,327.3 L539.0,327.5 L540.0,327.7 L541.0,327.9" stroke="#a83208" stroke-width="2.1"/>
<path d="M113.0,335.6 L114.0,335.3 L115.0,335.4 L116.0,335.3 L117.0,335.2 L118.0,335.1 L119.0,335.0 L120.0,335.0 L121.0,334.9 L122.0,335.0 L123.0,334.7 L124.0,334.6 L125.0,334.5 L126.0,334.4 L127.0,334.3 L128.0,334.2 L129.0,334.1 L130.0,333.9 L131.0,333.8 L132.0,333.6 L133.0,333.4 L134.0,333.3 L135.0,333.0 L136.0,332.6 L137.0,332.2 L138.0,331.6 L139.0,330.9 L140.0,329.7 L141.0,328.2 L142.0,326.4 L143.0,324.3 L144.0,322.3 L145.0,320.2 L146.0,318.0 L147.0,315.6 L148.0,312.9 L149.0,309.2 L150.0,305.6 L151.0,300.8 L152.0,295.7 L153.0,290.4 L154.0,284.0 L155.0,276.7 L156.0,269.7 L157.0,264.0 L158.0,258.7 L159.0,254.7 L160.0,250.9 L161.0,248.2 L162.0,246.9 L163.0,245.9 L164.0,246.0 L165.0,247.9 L166.0,250.0 L167.0,252.4 L168.0,255.1 L169.0,258.2 L170.0,260.3 L171.0,263.8 L172.0,266.3 L173.0,268.0 L174.0,270.3 L175.0,271.5 L176.0,273.0 L177.0,272.8 L178.0,273.0 L179.0,272.7 L180.0,271.6 L181.0,269.2 L182.0,267.6 L183.0,265.6 L184.0,262.9 L185.0,261.0 L186.0,257.6 L187.0,255.3 L188.0,251.9 L189.0,249.9 L190.0,246.7 L191.0,244.0 L192.0,241.1 L193.0,240.2 L194.0,237.9 L195.0,236.1 L196.0,234.9 L197.0,233.5 L198.0,232.4 L199.0,231.9 L200.0,232.0 L201.0,233.2 L202.0,232.9 L203.0,234.2 L204.0,235.6 L205.0,237.4 L206.0,239.3 L207.0,240.7 L208.0,242.7 L209.0,245.4 L210.0,247.6 L211.0,248.9 L212.0,250.0 L213.0,250.8 L214.0,251.8 L215.0,252.2 L216.0,252.7 L217.0,252.1 L218.0,252.0 L219.0,251.3 L220.0,250.6 L221.0,249.2 L222.0,248.5 L223.0,246.5 L224.0,245.0 L225.0,242.2 L226.0,241.2 L227.0,239.2 L228.0,237.3 L229.0,233.7 L230.0,232.2 L231.0,229.3 L232.0,225.5 L233.0,222.8 L234.0,220.1 L235.0,217.6 L236.0,215.1 L237.0,212.9 L238.0,209.1 L239.0,206.8 L240.0,203.8 L241.0,201.9 L242.0,198.8 L243.0,196.6 L244.0,192.8 L245.0,190.8 L246.0,188.1 L247.0,187.1 L248.0,184.4 L249.0,181.6 L250.0,179.4 L251.0,177.8 L252.0,175.0 L253.0,172.8 L254.0,171.6 L255.0,170.7 L256.0,166.8 L257.0,164.1 L258.0,161.1 L259.0,158.2 L260.0,156.7 L261.0,154.1 L262.0,150.6 L263.0,147.9 L264.0,144.8 L265.0,141.9 L266.0,138.0 L267.0,136.1 L268.0,133.9 L269.0,130.8 L270.0,128.6 L271.0,125.9 L272.0,123.7 L273.0,122.2 L274.0,118.9 L275.0,117.0 L276.0,116.0 L277.0,114.2 L278.0,113.5 L279.0,108.7 L280.0,109.2 L281.0,106.1 L282.0,104.6 L283.0,103.3 L284.0,101.7 L285.0,99.9 L286.0,97.5 L287.0,97.0 L288.0,93.7 L289.0,92.2 L290.0,91.8 L291.0,89.7 L292.0,91.4 L293.0,90.0 L294.0,90.9 L295.0,88.8 L296.0,88.4 L297.0,88.6 L298.0,88.7 L299.0,87.0 L300.0,87.4 L301.0,86.6 L302.0,87.6 L303.0,85.3 L304.0,86.9 L305.0,85.8 L306.0,86.2 L307.0,87.2 L308.0,87.7 L309.0,89.8 L310.0,91.4 L311.0,91.4 L312.0,92.6 L313.0,94.4 L314.0,94.2 L315.0,95.3 L316.0,96.2 L317.0,96.6 L318.0,100.1 L319.0,99.4 L320.0,102.8 L321.0,103.4 L322.0,105.5 L323.0,105.5 L324.0,105.8 L325.0,107.9 L326.0,108.2 L327.0,109.8 L328.0,111.2 L329.0,112.3 L330.0,113.5 L331.0,114.4 L332.0,116.4 L333.0,116.4 L334.0,119.6 L335.0,120.3 L336.0,123.8 L337.0,125.6 L338.0,125.0 L339.0,128.8 L340.0,131.0 L341.0,132.7 L342.0,136.2 L343.0,137.9 L344.0,139.2 L345.0,142.4 L346.0,144.6 L347.0,146.8 L348.0,147.8 L349.0,151.0 L350.0,153.0 L351.0,153.8 L352.0,156.1 L353.0,158.7 L354.0,160.5 L355.0,164.2 L356.0,165.4 L357.0,166.8 L358.0,169.1 L359.0,171.7 L360.0,175.3 L361.0,176.0 L362.0,178.4 L363.0,180.7 L364.0,182.4 L365.0,185.7 L366.0,186.1 L367.0,188.6 L368.0,190.2 L369.0,192.2 L370.0,193.1 L371.0,196.4 L372.0,197.2 L373.0,199.1 L374.0,200.5 L375.0,202.4 L376.0,205.0 L377.0,207.0 L378.0,208.8 L379.0,210.8 L380.0,212.4 L381.0,213.9 L382.0,216.0 L383.0,217.5 L384.0,218.8 L385.0,220.7 L386.0,222.5 L387.0,223.7 L388.0,225.1 L389.0,227.1 L390.0,229.3 L391.0,230.2 L392.0,232.0 L393.0,233.8 L394.0,236.1 L395.0,236.7 L396.0,239.3 L397.0,241.4 L398.0,242.5 L399.0,245.0 L400.0,246.4 L401.0,247.7 L402.0,249.6 L403.0,250.7 L404.0,252.7 L405.0,255.1 L406.0,256.0 L407.0,258.4 L408.0,259.4 L409.0,261.2 L410.0,262.3 L411.0,263.1 L412.0,264.8 L413.0,266.3 L414.0,267.2 L415.0,268.4 L416.0,270.0 L417.0,271.0 L418.0,271.9 L419.0,273.2 L420.0,274.7 L421.0,275.4 L422.0,276.8 L423.0,277.9 L424.0,278.5 L425.0,279.3 L426.0,280.2 L427.0,281.5 L428.0,282.7 L429.0,283.6 L430.0,284.6 L431.0,285.4 L432.0,286.6 L433.0,287.4 L434.0,288.4 L435.0,289.3 L436.0,290.2 L437.0,291.4 L438.0,292.3 L439.0,293.4 L440.0,294.7 L441.0,295.6 L442.0,297.0 L443.0,297.7 L444.0,298.4 L445.0,299.5 L446.0,300.2 L447.0,300.9 L448.0,301.9 L449.0,302.4 L450.0,302.9 L451.0,304.1 L452.0,304.7 L453.0,305.6 L454.0,306.1 L455.0,306.7 L456.0,307.7 L457.0,308.1 L458.0,308.9 L459.0,309.7 L460.0,310.2 L461.0,310.9 L462.0,311.5 L463.0,312.2 L464.0,312.6 L465.0,313.4 L466.0,313.9 L467.0,314.7 L468.0,315.0 L469.0,315.4 L470.0,316.1 L471.0,316.5 L472.0,317.0 L473.0,317.5 L474.0,318.0 L475.0,318.3 L476.0,318.8 L477.0,319.0 L478.0,319.5 L479.0,320.1 L480.0,320.4 L481.0,320.7 L482.0,321.1 L483.0,321.6 L484.0,321.9 L485.0,322.2 L486.0,322.6 L487.0,322.9 L488.0,323.3 L489.0,323.6 L490.0,324.0 L491.0,324.3 L492.0,324.6 L493.0,324.9 L494.0,325.2 L495.0,325.5 L496.0,325.8 L497.0,326.1 L498.0,326.3 L499.0,326.6 L500.0,326.8 L501.0,327.0 L502.0,327.2 L503.0,327.5 L504.0,327.8 L505.0,328.0 L506.0,328.3 L507.0,328.4 L508.0,328.7 L509.0,328.9 L510.0,329.2 L511.0,329.3 L512.0,329.5 L513.0,329.6 L514.0,329.8 L515.0,330.1 L516.0,330.2 L517.0,330.3 L518.0,330.5 L519.0,330.7 L520.0,330.8 L521.0,331.0 L522.0,331.1 L523.0,331.3 L524.0,331.4 L525.0,331.5 L526.0,331.7 L527.0,331.7 L528.0,331.9 L529.0,331.8 L530.0,332.1 L531.0,332.2 L532.0,332.2 L533.0,332.3 L534.0,332.4 L535.0,332.5 L536.0,332.5 L537.0,332.7 L538.0,332.8 L539.0,332.9 L540.0,332.9 L541.0,333.0" stroke="#58d010" stroke-width="2.1"/>
</g>
<path d="M112.2,30.05 V339.40 H541.6" fill="none" stroke="#000" stroke-width="2.3" stroke-linejoin="miter" stroke-linecap="butt"/>
<line x1="104.6" y1="339.40" x2="112.2" y2="339.40" stroke="#000" stroke-width="2.3"/>
<text x="100.6" y="344.45" text-anchor="end">0</text>
<line x1="104.6" y1="262.35" x2="112.2" y2="262.35" stroke="#000" stroke-width="2.3"/>
<text x="100.6" y="267.40" text-anchor="end">200000</text>
<line x1="104.6" y1="185.30" x2="112.2" y2="185.30" stroke="#000" stroke-width="2.3"/>
<text x="100.6" y="190.35" text-anchor="end">400000</text>
<line x1="104.6" y1="108.25" x2="112.2" y2="108.25" stroke="#000" stroke-width="2.3"/>
<text x="100.6" y="113.30" text-anchor="end">600000</text>
<line x1="104.6" y1="31.20" x2="112.2" y2="31.20" stroke="#000" stroke-width="2.3"/>
<text x="100.6" y="36.25" text-anchor="end">800000</text>
<line x1="153.70" y1="339.4" x2="153.70" y2="346.3" stroke="#000" stroke-width="2.3"/>
<text x="153.70" y="364.4" text-anchor="middle">400</text>
<line x1="222.86" y1="339.4" x2="222.86" y2="346.3" stroke="#000" stroke-width="2.3"/>
<text x="222.86" y="364.4" text-anchor="middle">450</text>
<line x1="292.02" y1="339.4" x2="292.02" y2="346.3" stroke="#000" stroke-width="2.3"/>
<text x="292.02" y="364.4" text-anchor="middle">500</text>
<line x1="361.18" y1="339.4" x2="361.18" y2="346.3" stroke="#000" stroke-width="2.3"/>
<text x="361.18" y="364.4" text-anchor="middle">550</text>
<line x1="430.34" y1="339.4" x2="430.34" y2="346.3" stroke="#000" stroke-width="2.3"/>
<text x="430.34" y="364.4" text-anchor="middle">600</text>
<line x1="499.50" y1="339.4" x2="499.50" y2="346.3" stroke="#000" stroke-width="2.3"/>
<text x="499.50" y="364.4" text-anchor="middle">650</text>
<text x="318.7" y="389.4" text-anchor="middle" letter-spacing="0.1">Wavelength(nm)</text>
<text transform="translate(24.5,165.9) rotate(-90)" text-anchor="middle">Intensity</text>
<text x="324.5" y="290.9" text-anchor="middle">A</text>
<text x="232.4" y="99.5" text-anchor="middle">B</text>
<text x="439.1" y="162" text-anchor="middle">C</text>
<!-- arrows -->
<g stroke="#000" stroke-width="1.25" fill="#000">
<g transform="translate(280.2,316.2) rotate(-37.64)"><line x1="0" y1="0" x2="26.58" y2="0"/><path d="M32.58,0 l-8.2,-2.9 l0,5.8 z" stroke="none"/></g>
<g transform="translate(266.3,124.3) rotate(-144.67)"><line x1="0" y1="0" x2="22.19" y2="0"/><path d="M28.19,0 l-8.2,-2.9 l0,5.8 z" stroke="none"/></g>
<g transform="translate(393.5,183.3) rotate(-31.97)"><line x1="0" y1="0" x2="24.41" y2="0"/><path d="M30.41,0 l-8.2,-2.9 l0,5.8 z" stroke="none"/></g>
</g>
</svg>
</body>
</html>
